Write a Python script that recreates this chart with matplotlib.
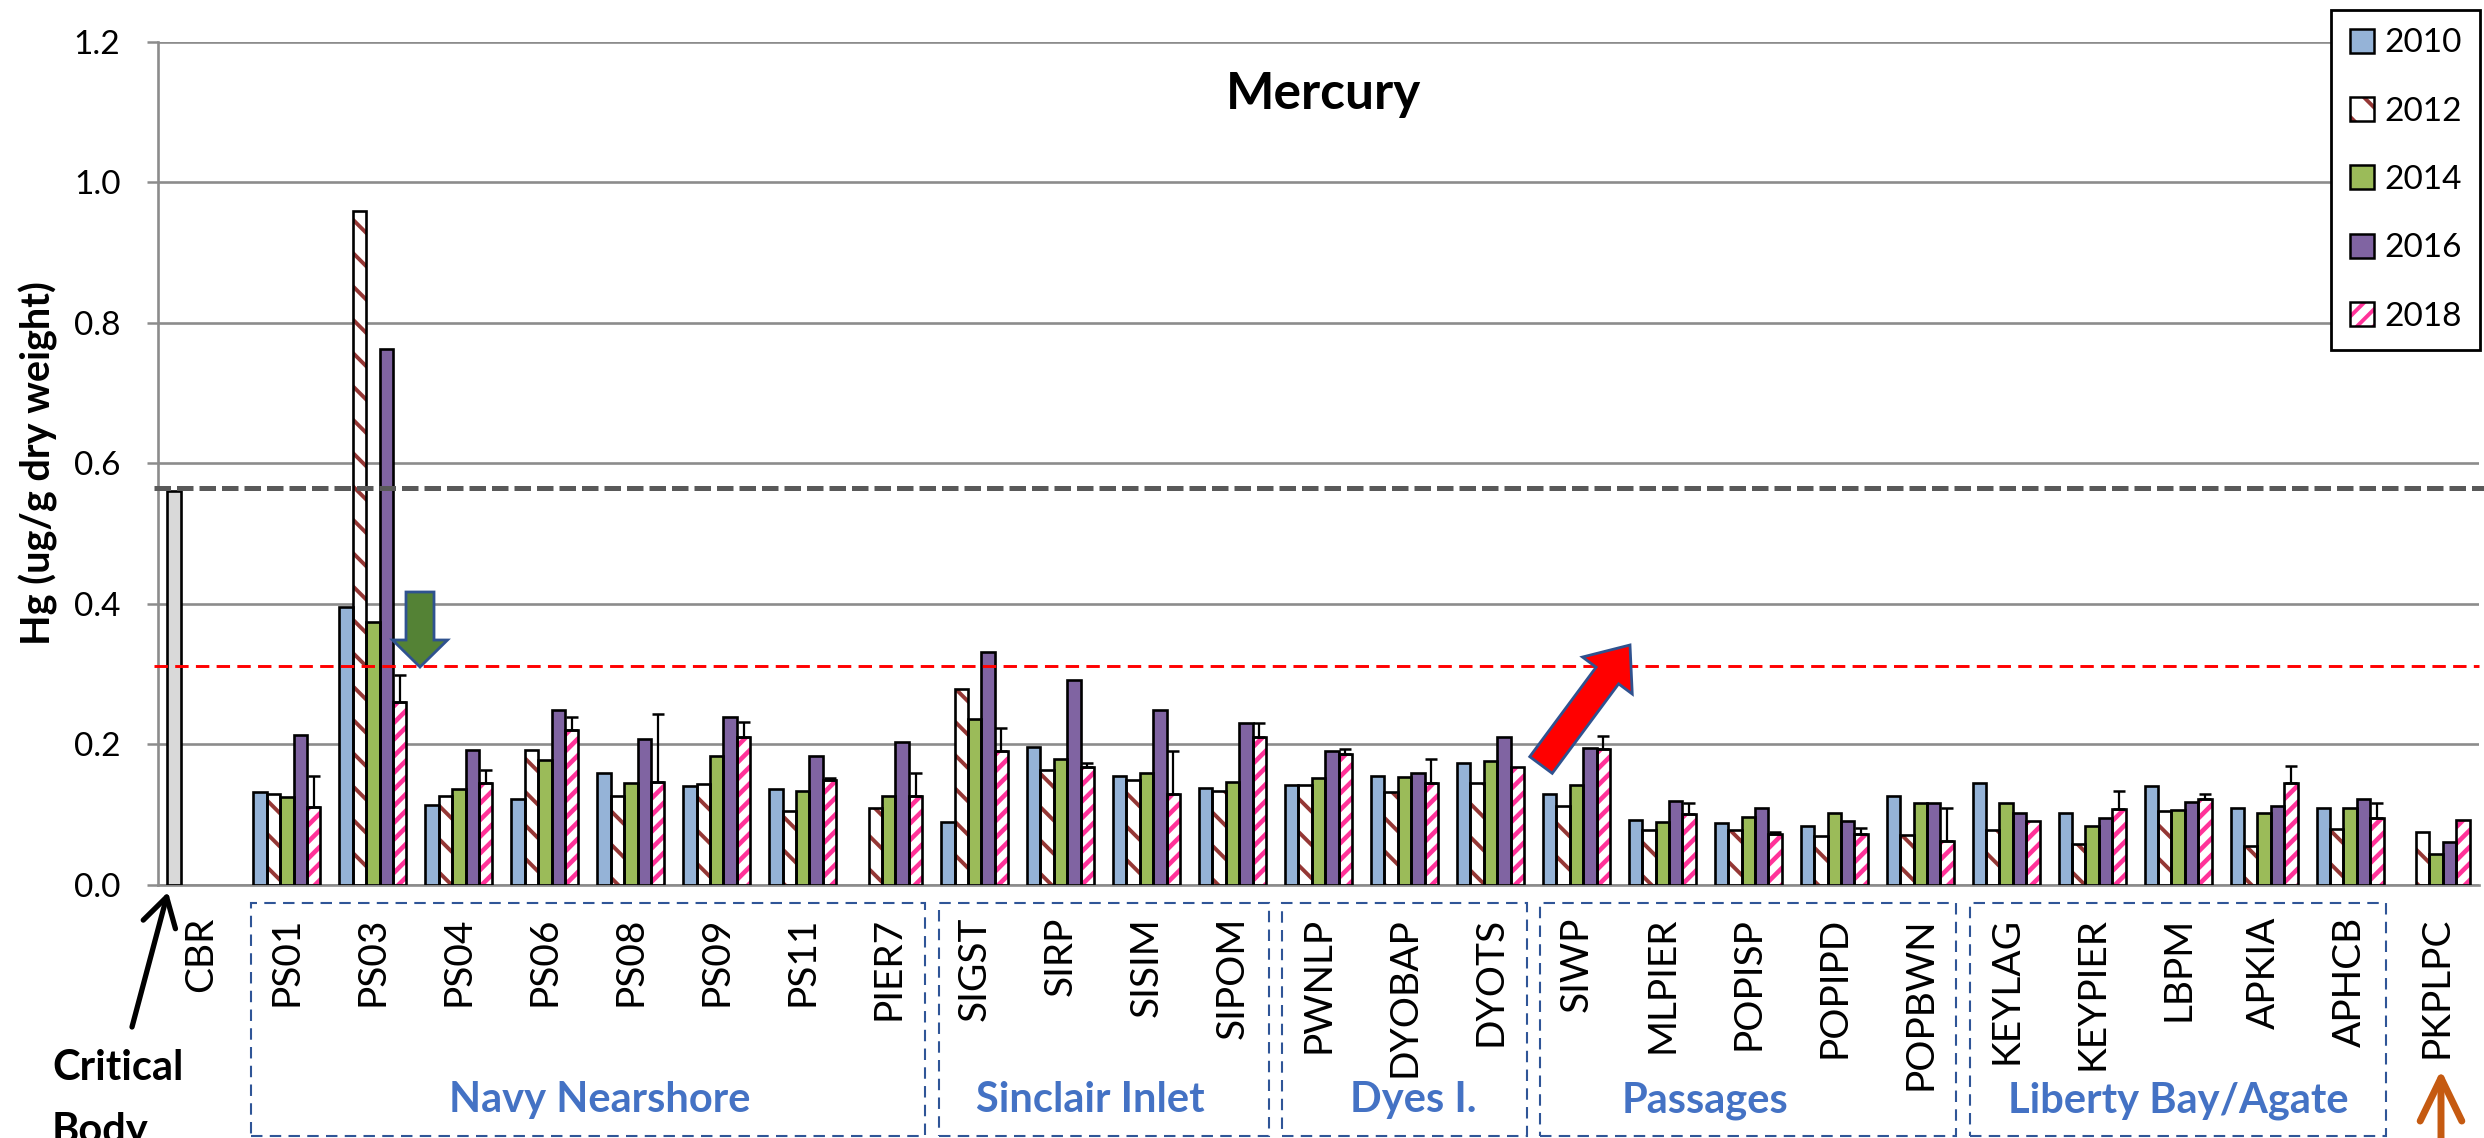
import numpy as np
import matplotlib
matplotlib.use("Agg")
import matplotlib.pyplot as plt
from matplotlib.patches import Rectangle, FancyArrow, FancyArrowPatch, Patch
from matplotlib.transforms import Affine2D, blended_transform_factory
from matplotlib.legend_handler import HandlerTuple

nan = np.nan

# ---------------- data ----------------
categories = ['CBR', 'PS01', 'PS03', 'PS04', 'PS06', 'PS08', 'PS09', 'PS11', 'PIER7',
              'SIGST', 'SIRP', 'SISIM', 'SIPOM', 'PWNLP', 'DYOBAP', 'DYOTS',
              'SIWP', 'MLPIER', 'POPISP', 'POPIPD', 'POPBWN',
              'KEYLAG', 'KEYPIER', 'LBPM', 'APKIA', 'APHCB', 'PKPLPC']
years = ['2010', '2012', '2014', '2016', '2018']

hg_2010 = [0.56, 0.133, 0.396, 0.114, 0.122, 0.160, 0.141, 0.136, nan,
           0.089, 0.197, 0.155, 0.138, 0.143, 0.155, 0.173,
           0.129, 0.092, 0.088, 0.084, 0.127,
           0.145, 0.102, 0.141, 0.110, 0.109, nan]
hg_2012 = [nan, 0.130, 0.959, 0.126, 0.192, 0.126, 0.144, 0.106, 0.109,
           0.279, 0.164, 0.150, 0.134, 0.143, 0.133, 0.145,
           0.112, 0.078, 0.078, 0.070, 0.071,
           0.078, 0.058, 0.105, 0.056, 0.080, 0.075]
hg_2014 = [nan, 0.125, 0.374, 0.137, 0.178, 0.145, 0.184, 0.134, 0.127,
           0.236, 0.180, 0.160, 0.146, 0.152, 0.154, 0.176,
           0.143, 0.090, 0.097, 0.102, 0.116,
           0.116, 0.084, 0.107, 0.102, 0.110, 0.044]
hg_2016 = [nan, 0.214, 0.763, 0.192, 0.249, 0.208, 0.239, 0.184, 0.203,
           0.331, 0.292, 0.249, 0.230, 0.191, 0.159, 0.210,
           0.195, 0.120, 0.109, 0.091, 0.116,
           0.102, 0.095, 0.118, 0.113, 0.122, 0.061]
hg_2018 = [nan, 0.111, 0.260, 0.145, 0.221, 0.146, 0.211, 0.149, 0.127,
           0.191, 0.168, 0.129, 0.210, 0.186, 0.145, 0.168,
           0.193, 0.101, 0.073, 0.073, 0.062,
           0.091, 0.108, 0.122, 0.145, 0.095, 0.092]
err_2018 = [0, 0.044, 0.039, 0.019, 0.018, 0.098, 0.021, 0.003, 0.033,
            0.033, 0.005, 0.061, 0.021, 0.008, 0.035, 0,
            0.019, 0.015, 0.002, 0.008, 0.047,
            0, 0.026, 0.008, 0.024, 0.022, 0]

groups = [('Navy Nearshore', 'PS01', 'PIER7'),
          ('Sinclair Inlet', 'SIGST', 'SIPOM'),
          ('Dyes I.', 'PWNLP', 'DYOTS'),
          ('Passages', 'SIWP', 'POPBWN'),
          ('Liberty Bay/Agate', 'KEYLAG', 'APHCB')]
group_label_shift = [0.14, -0.15, 0.1, -0.5, 0.0]

cbr_level = 0.565
red_level = 0.312
yticks = [0.0, 0.2, 0.4, 0.6, 0.8, 1.0, 1.2]

# ---------------- style ----------------
plt.rcParams['font.family'] = ['Lato', 'DejaVu Sans']
plt.rcParams['hatch.linewidth'] = 2.8

W, H = 2484, 1138
fig = plt.figure(figsize=(W / 100, H / 100), dpi=100)
ax = fig.add_axes([158 / W, 1 - 885 / H, (2479 - 158) / W, (885 - 41.7) / H])
T = Affine2D().scale(1 / W, -1 / H).translate(0, 1) + fig.transFigure

x = np.arange(len(categories))
bw = 0.156
series = [hg_2010, hg_2012, hg_2014, hg_2016, hg_2018]
fills = ['#95B3D7', 'white', '#9BBB59', '#8064A2', 'white']
hatches = [None, '\\', None, None, '//']
hcolors = ['none', '#953735', 'none', 'none', '#FF3399']
hatch_lw = [None, 2.8, None, None, 3.3]

for j, vals in enumerate(series):
    vals = np.array(vals, dtype=float)
    pos = x + (j - 2) * bw
    fc = [fills[j]] * len(categories)
    if j == 0:
        fc[0] = '#D9D9D9'   # critical body residue bar
    bars = ax.bar(pos, vals, bw, color=fc, edgecolor=hcolors[j], linewidth=0,
                  hatch=hatches[j], zorder=2)
    if hatch_lw[j] is not None:
        for p in bars:
            if hasattr(p, 'set_hatch_linewidth'):
                p.set_hatch_linewidth(hatch_lw[j])
    ax.bar(pos, vals, bw, fill=False, edgecolor='black', linewidth=1.9, zorder=3)

err = np.array(err_2018)
v18 = np.array(hg_2018, dtype=float)
m = err > 0
ax.errorbar(x[m] + 2 * bw, v18[m], yerr=[np.zeros(m.sum()), err[m]], fmt='none',
            ecolor='black', elinewidth=1.6, capsize=4, capthick=1.8, zorder=4)

ax.plot([-0.55, 26.6], [cbr_level] * 2, color='#595959', lw=3.6,
        dashes=(3.3, 1.2), clip_on=False, zorder=5)
ax.plot([-0.55, 26.5], [red_level] * 2, color='#FF0000', lw=2.1,
        dashes=(4.6, 2.5), clip_on=False, zorder=5)

ax.set_xlim(-0.5, len(categories) - 0.5)
ax.set_ylim(0, 1.2)
ax.set_yticks(yticks)
ax.set_yticklabels([f'{v:.1f}' for v in yticks])
ax.set_xticks(x)
ax.set_xticklabels(categories, rotation=90, fontsize=28)
ax.tick_params(axis='x', length=0, pad=23)
ax.tick_params(axis='y', length=8, width=1.8, color='#8C8C8C', pad=19, labelsize=24)
ax.yaxis.grid(True, color='#8C8C8C', lw=1.9)
ax.set_axisbelow(True)
for s in ['top', 'right']:
    ax.spines[s].set_visible(False)
for s in ['left', 'bottom']:
    ax.spines[s].set_color('#8C8C8C')
    ax.spines[s].set_linewidth(1.9)

# group boxes under the axis
bt = blended_transform_factory(ax.transData, fig.transFigure)
for (name, a, b), dx in zip(groups, group_label_shift):
    i0, i1 = categories.index(a), categories.index(b)
    ax.add_patch(Rectangle((i0 - 0.5 + 0.08, 1 - 1136 / H), i1 - i0 + 1 - 0.16,
                           (1136 - 903) / H, transform=bt, fill=False,
                           edgecolor='#2F5597', lw=1.5, linestyle=(0, (5.5, 3.5)),
                           clip_on=False))
    ax.text((i0 + i1) / 2 + dx, 1 - 1112 / H, name, transform=bt, ha='center',
            va='baseline', fontsize=30, fontweight='bold', color='#4472C4')

# titles
fig.text(1323 / W, 1 - 95 / H, 'Mercury', ha='center', va='center',
         fontsize=37, fontweight='bold')
fig.text(38 / W, 1 - 463 / H, 'Hg (ug/g dry weight)', rotation=90, ha='center',
         va='center', fontsize=28.5, fontweight='bold')
fig.text(52 / W, 1 - 1080 / H, 'Critical', ha='left', va='baseline', fontsize=30,
         fontweight='bold')
fig.text(52 / W, 1 - 1143 / H, 'Body', ha='left', va='baseline', fontsize=30,
         fontweight='bold')

# arrows (annotations)
fig.add_artist(FancyArrowPatch((132, 1027), (168, 892), transform=T,
                               arrowstyle='->,head_length=0.85,head_width=0.5',
                               mutation_scale=24, lw=3.8, color='black',
                               shrinkA=0, shrinkB=0))
fig.add_artist(FancyArrowPatch((2441, 1200), (2441, 1070), transform=T,
                               arrowstyle='->,head_length=1.55,head_width=0.75',
                               mutation_scale=20, lw=5, color='#C55A11',
                               shrinkA=0, shrinkB=0))
fig.add_artist(FancyArrow(420, 592, 0, 75, width=28, head_width=55, head_length=27,
                          length_includes_head=True, transform=T,
                          facecolor='#548235', edgecolor='#2F528F', lw=2))
fig.add_artist(FancyArrow(1541, 765, 89, -120, width=28, head_width=62, head_length=38,
                          length_includes_head=True, transform=T,
                          facecolor='#FF0000', edgecolor='#2F528F', lw=2))

# legend
handles = []
for j in range(5):
    if hatches[j]:
        hp = Patch(facecolor='white', edgecolor=hcolors[j], hatch=hatches[j], lw=0)
        if hasattr(hp, 'set_hatch_linewidth'):
            hp.set_hatch_linewidth(hatch_lw[j])
        handles.append((hp, Patch(facecolor='none', edgecolor='black', lw=1.8)))
    else:
        handles.append(Patch(facecolor=fills[j], edgecolor='black', lw=1.8))
leg = ax.legend(handles, years, loc='upper right', bbox_to_anchor=(2480 / W, 1 - 10 / H),
                bbox_transform=fig.transFigure, fancybox=False, edgecolor='black',
                framealpha=1, borderpad=0.55, labelspacing=1.15, handlelength=0.72,
                handleheight=0.72, handletextpad=0.31, fontsize=24, borderaxespad=0,
                handler_map={tuple: HandlerTuple(ndivide=1)})
leg.get_frame().set_linewidth(2)
leg.set_zorder(10)

fig.savefig('out.png', dpi=100, facecolor='white')
